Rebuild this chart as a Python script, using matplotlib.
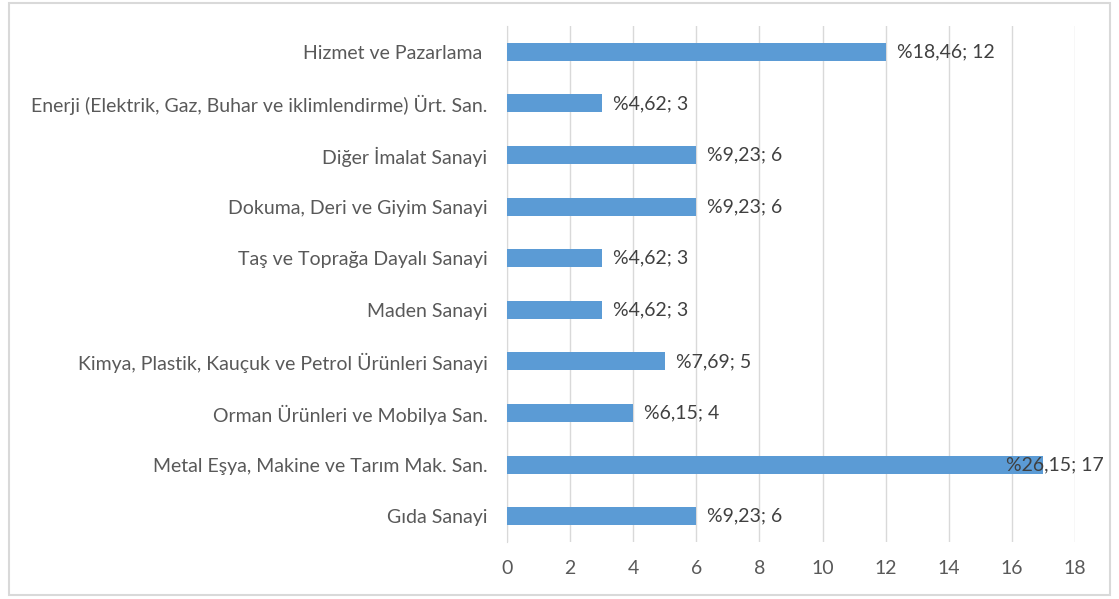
import matplotlib.pyplot as plt
from matplotlib.patches import Rectangle

# Data (bottom to top, as drawn)
categories = ['Gıda Sanayi',
              'Metal Eşya, Makine ve Tarım Mak. San.',
              'Orman Ürünleri ve Mobilya San.',
              'Kimya, Plastik, Kauçuk ve Petrol Ürünleri Sanayi',
              'Maden Sanayi',
              'Taş ve Toprağa Dayalı Sanayi',
              'Dokuma, Deri ve Giyim Sanayi',
              'Diğer İmalat Sanayi',
              'Enerji (Elektrik, Gaz, Buhar ve iklimlendirme) Ürt. San.',
              'Hizmet ve Pazarlama ']
counts = [6, 17, 4, 5, 3, 3, 6, 6, 3, 12]
percents = ['9,23', '26,15', '6,15', '7,69', '4,62', '4,62', '9,23', '9,23', '4,62', '18,46']
x_ticks = [0, 2, 4, 6, 8, 10, 12, 14, 16, 18]

plt.rcParams['font.family'] = ['Lato', 'DejaVu Sans']
FS = 14

fig = plt.figure(figsize=(11.19, 5.99), dpi=100)
ax = fig.add_axes([507 / 1119, 1 - 542 / 599, 568 / 1119, 516 / 599])

bar_color = '#5B9BD5'
ypos = list(range(len(categories)))
ax.barh(ypos, counts, height=0.35, color=bar_color, zorder=3)

ax.set_xlim(0, 18)
ax.set_ylim(-0.5, len(categories) - 0.5)
ax.set_xticks(x_ticks)
ax.set_yticks(ypos)
ax.set_yticklabels(categories)

ax.grid(axis='x', color='#d9d9d9', linewidth=1, zorder=0)
for s in ['top', 'right', 'bottom']:
    ax.spines[s].set_visible(False)
ax.spines['left'].set_color('#d9d9d9')
ax.tick_params(axis='both', length=0, labelsize=FS, colors='#595959')
ax.tick_params(axis='y', pad=14)
ax.tick_params(axis='x', pad=13)

# data labels
for y, c, p in zip(ypos, counts, percents):
    txt = f'%{p}; {c}'
    if c == max(counts):
        ax.annotate(txt, xy=(c, y), xytext=(60, 0), textcoords='offset pixels',
                    ha='right', va='center', fontsize=FS, color='#404040', zorder=5)
    else:
        ax.annotate(txt, xy=(c, y), xytext=(11, 0), textcoords='offset pixels',
                    ha='left', va='center', fontsize=FS, color='#404040', zorder=5)

# chart frame
fig.patches.append(Rectangle((9 / 1119, 4 / 599), 1101 / 1119, 592 / 599,
                             transform=fig.transFigure, fill=False,
                             edgecolor='#d9d9d9', linewidth=1.5))

plt.savefig('out.png', dpi=100)
plt.close()
